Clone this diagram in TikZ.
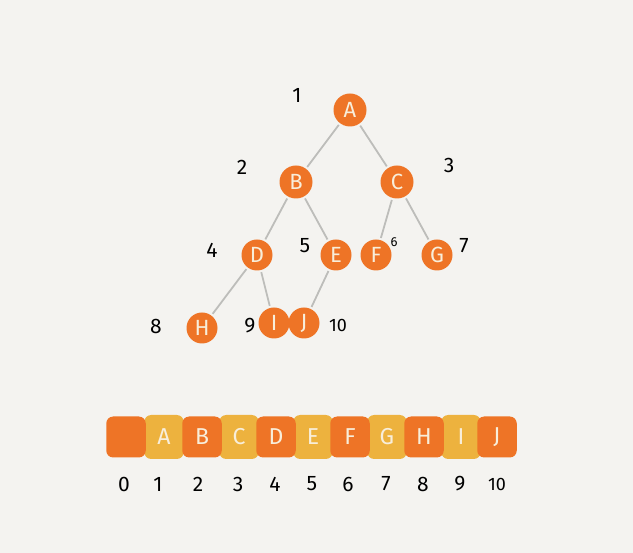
\documentclass[tikz,border=0pt]{standalone}
\usepackage{fontspec}
\setmainfont{Fira Sans}
\definecolor{bg}{HTML}{F4F3F0}
\definecolor{dko}{HTML}{EE7426}
\definecolor{lto}{HTML}{EDB23E}
\definecolor{ink}{HTML}{F8EEDA}
\definecolor{edge}{HTML}{BDBDBA}
\tikzset{
  tnode/.style={circle,fill=dko,minimum size=33pt,inner sep=0pt,text=ink,font=\fontsize{22}{22}\selectfont},
  snode/.style={tnode,minimum size=31pt},
  tedge/.style={draw=edge,line width=1.8pt,shorten <=2pt,shorten >=2pt},
  idx/.style={font=\fontsize{21}{21}\selectfont,text=black,inner sep=0pt},
  abox/.style={rounded corners=7pt,minimum width=39.5pt,minimum height=41pt,inner sep=0pt,text=ink,font=\fontsize{23}{23}\selectfont},
  dbox/.style={abox,fill=dko},
  lbox/.style={abox,fill=lto,minimum height=44pt}
}
\begin{document}
\begin{tikzpicture}[x=1pt,y=-1pt]
\fill[bg] (0,0) rectangle (633,553);
\useasboundingbox (0,0) rectangle (633,553);
% tree nodes
\node[tnode] (A) at (350,110) {A};
\node[tnode] (B) at (296,182) {B};
\node[tnode] (C) at (397,182) {C};
\node[snode] (D) at (257,255) {D};
\node[snode] (E) at (336,255) {E};
\node[snode] (F) at (376,255) {F};
\node[snode] (G) at (437,255) {G};
\node[snode] (H) at (202,328) {H};
\node[snode] (I) at (274,323) {I};
\node[snode] (J) at (304,323) {J};
% edges
\draw[tedge] (A) -- (B);
\draw[tedge] (A) -- (C);
\draw[tedge] (B) -- (D);
\draw[tedge] (B) -- (E);
\draw[tedge] (C) -- (F);
\draw[tedge] (C) -- (G);
\draw[tedge] (D) -- (H);
\draw[tedge] (D) -- (I);
\draw[tedge] (E) -- (J);
% tree index labels
\node[idx] (n1) at (297,95) {1};
\node[idx] (n2) at (242,167) {2};
\node[idx] (n3) at (449,165) {3};
\node[idx] (n4) at (212,250) {4};
\node[idx] (n5) at (305,246) {5};
\node[idx,font=\fontsize{13}{13}\selectfont] (n6) at (394,242) {6};
\node[idx] (n7) at (464,246) {7};
\node[idx] (n8) at (156,326) {8};
\node[idx] (n9) at (250,326) {9};
\node[idx,font=\fontsize{18}{18}\selectfont] (n10) at (338,325) {10};
% array boxes
\node[lbox] (b1) at (164,437) {A};
\node[lbox] (b3) at (239,437) {C};
\node[lbox] (b5) at (313,437) {E};
\node[lbox] (b7) at (387,437) {G};
\node[lbox] (b9) at (461,437) {I};
\node[dbox] (b0) at (126,437) {};
\node[dbox] (b2) at (202,437) {B};
\node[dbox] (b4) at (276,437) {D};
\node[dbox] (b6) at (350,437) {F};
\node[dbox] (b8) at (424,437) {H};
\node[dbox] (b10) at (497,437) {J};
% array indices
\node[idx] (i0) at (124,484) {0};
\node[idx] (i1) at (158,484) {1};
\node[idx] (i2) at (198,484) {2};
\node[idx] (i3) at (238,484) {3};
\node[idx] (i4) at (275,484) {4};
\node[idx] (i5) at (312,484) {5};
\node[idx] (i6) at (348,484) {6};
\node[idx] (i7) at (386,484) {7};
\node[idx] (i8) at (423,484) {8};
\node[idx] (i9) at (460,484) {9};
\node[idx,font=\fontsize{18}{18}\selectfont] (i10) at (497,484) {10};
\end{tikzpicture}
\end{document}
